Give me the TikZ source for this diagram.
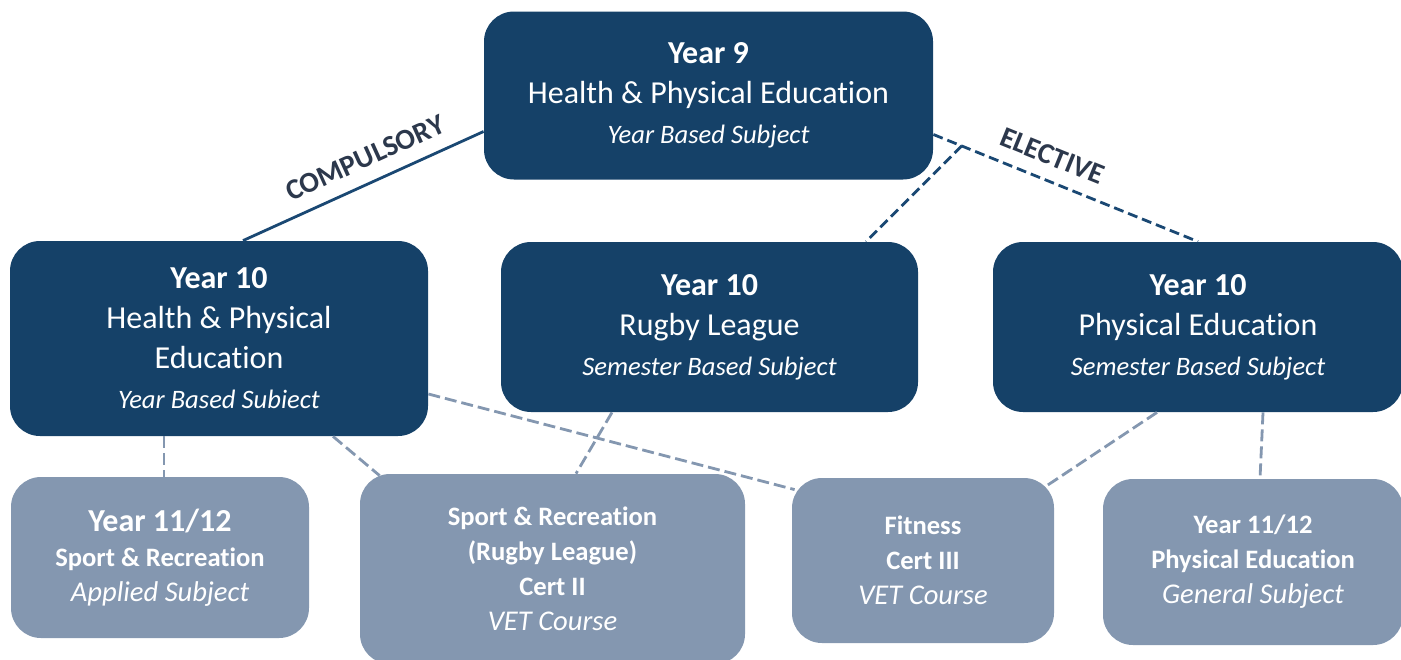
\documentclass[tikz,border=0pt]{standalone}
\usepackage{fontspec}
\setmainfont{Carlito}[Ligatures=NoCommon]
\definecolor{navybox}{RGB}{21,65,104}
\definecolor{navyline}{RGB}{26,72,115}
\definecolor{greybox}{RGB}{132,151,176}
\definecolor{labelink}{RGB}{44,56,76}
\newcommand{\bigline}{\fontsize{16}{20}\selectfont}
\newcommand{\midline}{\fontsize{13.3}{17.5}\selectfont}
\newcommand{\itline}{\fontsize{13.3}{17.5}\selectfont\itshape}
\newcommand{\lowit}{\fontsize{14.3}{18}\selectfont\itshape}
\begin{document}
\begin{tikzpicture}[x=0.5pt, y=-0.5pt,
  yearbox/.style={fill=navybox, rounded corners=15pt, text=white, align=center, font=\bigline},
  pathbox/.style={fill=greybox, rounded corners=15pt, text=white, align=center, font=\midline\bfseries},
  mainlink/.style={draw=navyline, line width=1.4pt},
  optlink/.style={draw=navyline, line width=1.4pt, dash pattern=on 5pt off 2.5pt},
  nextlink/.style={draw=greybox, line width=1.4pt, dash pattern=on 6pt off 2.5pt},
  tag/.style={text=labelink, font=\fontsize{14.5}{16}\selectfont\bfseries, sloped, above=3.5pt}]
\useasboundingbox (0,0) rectangle (1401,659);
\node [yearbox, minimum width=224.5pt, minimum height=84pt] (top) at (708.5,95.5)
  {\textbf{Year 9}\\Health \& Physical Education\\{\itline Year Based Subject}};
\node [yearbox, minimum width=209pt, minimum height=97.5pt] (l10) at (219,338.5)
  {\textbf{Year 10}\\Health \& Physical\\Education\\{\itline Year Based Subiect}};
\node [yearbox, minimum width=208.5pt, minimum height=85pt] (m10) at (709.5,327)
  {\textbf{Year 10}\\Rugby League\\{\itline Semester Based Subject}};
\node [yearbox, minimum width=205pt, minimum height=85pt] (r10) at (1198,327)
  {\textbf{Year 10}\\Physical Education\\{\itline Semester Based Subject}};
\node [pathbox, minimum width=149pt, minimum height=80.5pt] (b1) at (160,557.5)
  {{\bigline Year 11/12}\\Sport \& Recreation\\{\lowit\mdseries Applied Subject}};
\node [pathbox, minimum width=192.5pt, minimum height=95pt] (b2) at (552.5,569)
  {Sport \& Recreation\\(Rugby League)\\Cert II\\{\lowit\mdseries VET Course}};
\node [pathbox, minimum width=131pt, minimum height=82.5pt] (b3) at (923,560.5)
  {Fitness\\Cert III\\{\lowit\mdseries VET Course}};
\node [pathbox, minimum width=150pt, minimum height=83pt] (b4) at (1253,562)
  {Year 11/12\\Physical Education\\{\lowit\mdseries General Subject}};
\draw [mainlink] ([xshift=12pt]l10.north) -- ([yshift=-18pt]top.west)
  node [tag, pos=0.55] {COMPULSORY};
\draw [optlink] ([yshift=-19.5pt]top.east) -- coordinate[pos=0.107] (fork) (r10.north)
  node [tag, pos=0.414] {ELECTIVE};
\draw [optlink] (fork) -- ([xshift=78.25pt]m10.north);
\draw [nextlink] ([xshift=-27.5pt]l10.south) -- ([xshift=2pt]b1.north);
\draw [nextlink] ([xshift=57pt]l10.south) -- ([xshift=10pt,yshift=-1pt]b2.north west);
\draw [nextlink] ([yshift=-27.75pt]l10.east) -- ([xshift=1.5pt,yshift=-6pt]b3.north west);
\draw [nextlink] ([xshift=-48.75pt]m10.south) -- ([xshift=11.75pt]b2.north);
\draw [nextlink] ([xshift=-20.5pt]r10.south) -- ([xshift=-4.5pt,yshift=-4.5pt]b3.north east);
\draw [nextlink] ([xshift=32.5pt]r10.south) -- ([xshift=3.5pt]b4.north);
\end{tikzpicture}
\end{document}
